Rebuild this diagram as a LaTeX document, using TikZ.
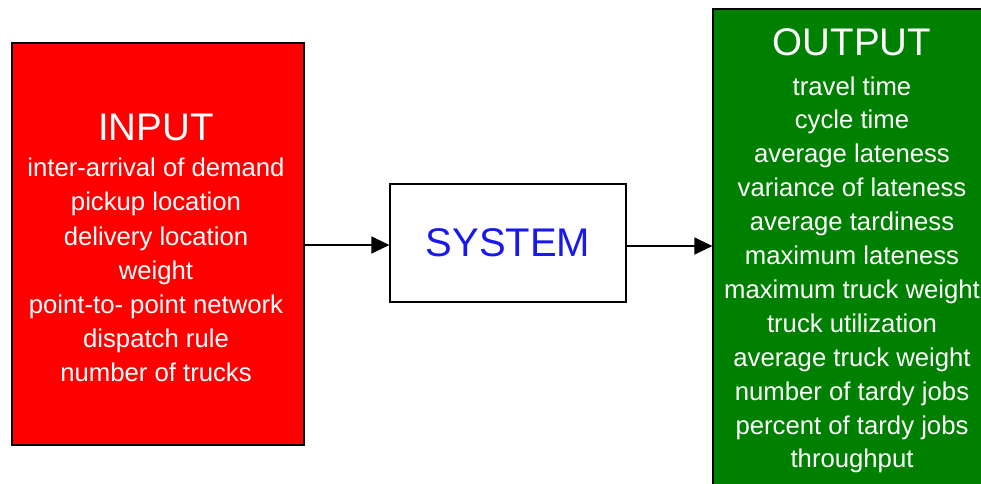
\documentclass[tikz,border=0pt]{standalone}
\usepackage{fontspec}
\setmainfont{Liberation Sans}
\usetikzlibrary{arrows.meta}
\definecolor{inred}{RGB}{255,0,0}
\definecolor{outgreen}{RGB}{0,128,0}
\definecolor{sysblue}{RGB}{25,25,235}
\begin{document}
\begin{tikzpicture}[x=1pt,y=-1pt,
  box/.style={draw=black, line width=1.2pt, rectangle, inner sep=0pt},
  title/.style={text=white, font=\fontsize{38.5}{40}\selectfont, anchor=base, inner sep=0pt},
  item/.style={text=white, font=\fontsize{25.7}{30}\selectfont, anchor=base, inner sep=0pt},
  flow/.style={draw=black, line width=1.3pt, -{Triangle[length=18pt,width=17pt]}}]
\useasboundingbox (0,0) rectangle (981,483);
\clip (0,0) rectangle (981,483);
\fill[white] (0,0) rectangle (981,483);

% the three blocks
\node[box, fill=inred, minimum width=292pt, minimum height=402pt] (input) at (158,244) {};
\node[box, fill=white, minimum width=236pt, minimum height=118pt] (system) at (508,243) {};
\node[box, fill=outgreen, minimum width=278pt, minimum height=486pt] (output) at (852,252) {};

% input block text
\node[title] (intitle) at (156,140) {INPUT};
\foreach \t [count=\i] in {inter-arrival of demand, pickup location, delivery location,
    weight, point-to- point network, dispatch rule, number of trucks}
  \node[item] (in-\i) at ({156},{176.7+34.2*(\i-1)}) {\t};

% system block text
\node[text=sysblue, font=\fontsize{40}{44}\selectfont, anchor=base, inner sep=0pt]
  (systitle) at (508,256.5) {SYSTEM};

% output block text
\node[title] (outtitle) at (852,55) {OUTPUT};
\foreach \t [count=\i] in {travel time, cycle time, average lateness, variance of lateness,
    average tardiness, maximum lateness, maximum truck weight, truck utilization,
    average truck weight, number of tardy jobs, percent of tardy jobs, throughput}
  \node[item] (out-\i) at ({852},{95+33.9*(\i-1)}) {\t};

% connectors
\draw[flow] (input.east |- 0,245) -- (system.west |- 0,245);
\draw[flow] (system.east |- 0,246) -- (output.west |- 0,246);
\end{tikzpicture}
\end{document}
